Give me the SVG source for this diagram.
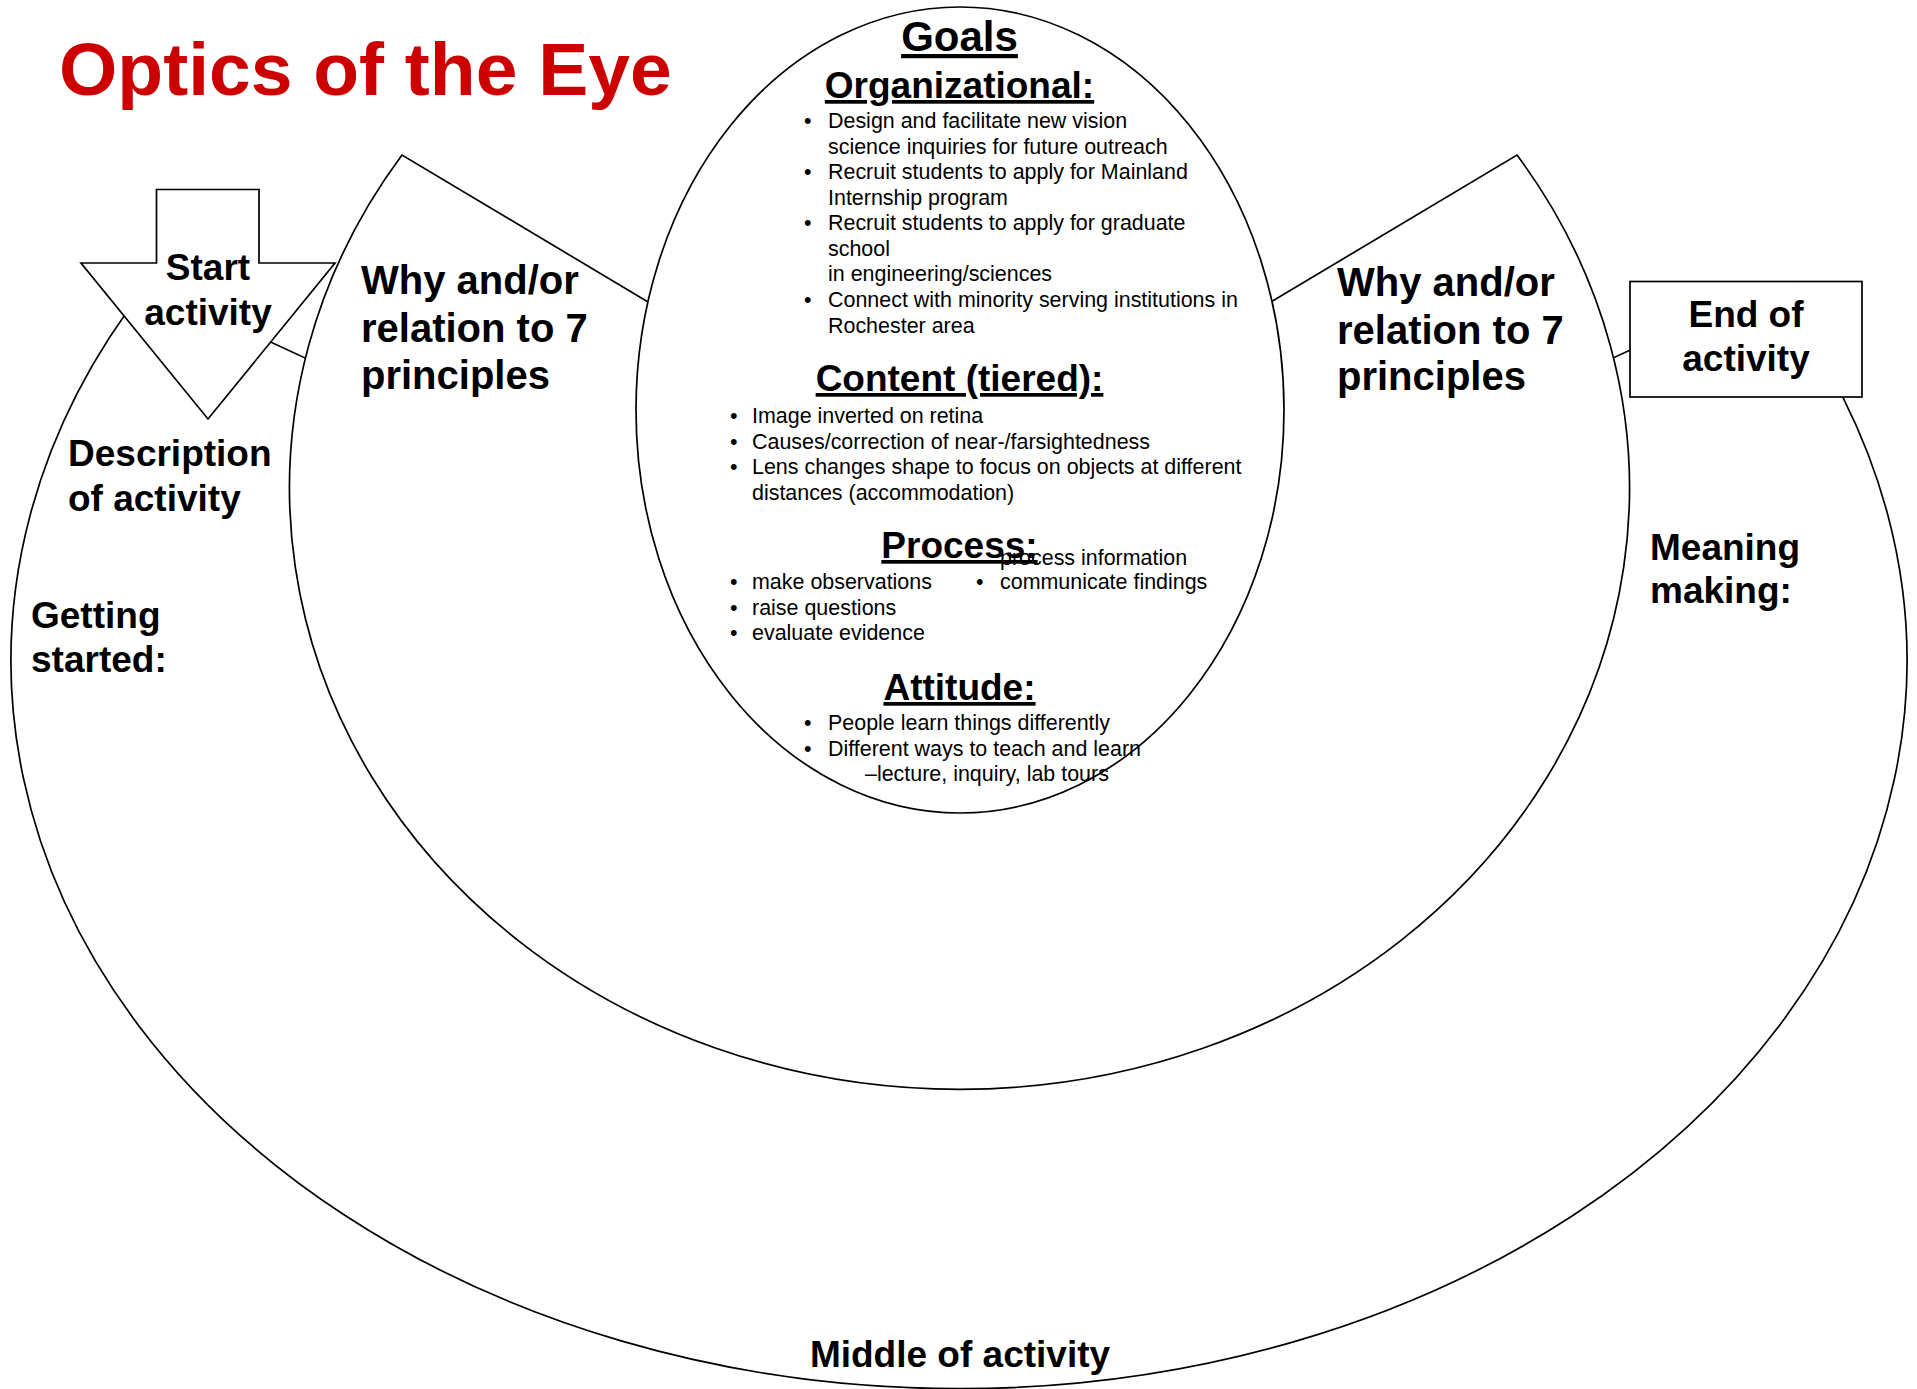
<svg xmlns="http://www.w3.org/2000/svg" width="1917" height="1389" viewBox="0 0 1917 1389">
  <style>
    .shape { fill: #ffffff; stroke: #000000; stroke-width: 1.7; stroke-linejoin: miter; }
    .lbl { font-family: "Liberation Sans", Arial, sans-serif; font-weight: bold; font-size: 37px; fill: #000000; }
    .why { font-size: 40px; }
    .head { font-family: "Liberation Sans", Arial, sans-serif; font-weight: bold; font-size: 37px; fill: #000000; text-anchor: middle; text-decoration: underline; }
    .body { font-family: "Liberation Sans", Arial, sans-serif; font-size: 21.45px; fill: #000000; }
    .mid { text-anchor: middle; }
  </style>

  <rect x="0" y="0" width="1917" height="1389" fill="#ffffff"/>

  <!-- outer band: pie with the top wedge removed -->
  <g id="outer-band">
    <path class="shape" d="M 959 660 L 147 285 A 948 728 0 1 0 1771 285 Z"/>
  </g>

  <!-- middle band: pie with the top wedge removed -->
  <g id="middle-band">
    <path class="shape" d="M 959.5 488 L 402 155 A 670 601 0 1 0 1517 155 Z"/>
  </g>

  <!-- central goals ellipse -->
  <g id="goals">
    <ellipse class="shape" cx="960" cy="410" rx="324" ry="403"/>
    <text class="head" x="959.5" y="51" style="font-size:42px">Goals</text>
    <text class="head" x="959.5" y="98">Organizational:</text>
    <g class="body">
      <text x="804" y="128">•</text>
      <text x="828" y="128">Design and facilitate new vision</text>
      <text x="828" y="153.5">science inquiries for future outreach</text>
      <text x="804" y="179">•</text>
      <text x="828" y="179">Recruit students to apply for Mainland</text>
      <text x="828" y="204.5">Internship program</text>
      <text x="804" y="230">•</text>
      <text x="828" y="230">Recruit students to apply for graduate</text>
      <text x="828" y="255.5">school</text>
      <text x="828" y="281">in engineering/sciences</text>
      <text x="804" y="307">•</text>
      <text x="828" y="307">Connect with minority serving institutions in</text>
      <text x="828" y="332.5">Rochester area</text>
    </g>

    <text class="head" x="959.5" y="391">Content (tiered):</text>
    <g class="body">
      <text x="730" y="423">•</text>
      <text x="752" y="423">Image inverted on retina</text>
      <text x="730" y="448.5">•</text>
      <text x="752" y="448.5">Causes/correction of near-/farsightedness</text>
      <text x="730" y="474">•</text>
      <text x="752" y="474">Lens changes shape to focus on objects at different</text>
      <text x="752" y="500">distances (accommodation)</text>
    </g>

    <text class="head" x="959.5" y="558">Process:</text>
    <g class="body">
      <text x="1000" y="565">process information</text>
      <text x="730" y="589">•</text>
      <text x="752" y="589">make observations</text>
      <text x="976" y="589">•</text>
      <text x="1000" y="589">communicate findings</text>
      <text x="730" y="614.5">•</text>
      <text x="752" y="614.5">raise questions</text>
      <text x="730" y="640">•</text>
      <text x="752" y="640">evaluate evidence</text>
    </g>

    <text class="head" x="959.5" y="700">Attitude:</text>
    <g class="body">
      <text x="804" y="729.5">•</text>
      <text x="828" y="729.5">People learn things differently</text>
      <text x="804" y="755.5">•</text>
      <text x="828" y="755.5">Different ways to teach and learn</text>
      <text x="865" y="781">–lecture, inquiry, lab tours</text>
    </g>
  </g>

  <!-- start marker: down arrow -->
  <g id="start-activity">
    <polygon class="shape" points="156.5,189.5 259,189.5 259,263 335,263 208,419 81,263 156.5,263"/>
    <text class="lbl mid" x="208" y="280">Start</text>
    <text class="lbl mid" x="208" y="325">activity</text>
  </g>

  <!-- end marker: box -->
  <g id="end-activity">
    <rect class="shape" x="1630" y="281.5" width="232" height="115.5"/>
    <text class="lbl mid" x="1746" y="327">End of</text>
    <text class="lbl mid" x="1746" y="371">activity</text>
  </g>

  <!-- band labels -->
  <g id="why-left">
    <text class="lbl why" x="361" y="294">Why and/or</text>
    <text class="lbl why" x="361" y="342">relation to 7</text>
    <text class="lbl why" x="361" y="389">principles</text>
  </g>
  <g id="why-right">
    <text class="lbl why" x="1337" y="296">Why and/or</text>
    <text class="lbl why" x="1337" y="344">relation to 7</text>
    <text class="lbl why" x="1337" y="390">principles</text>
  </g>
  <g id="description">
    <text class="lbl" x="68" y="466">Description</text>
    <text class="lbl" x="68" y="511">of activity</text>
  </g>
  <g id="getting-started">
    <text class="lbl" x="31" y="628">Getting</text>
    <text class="lbl" x="31" y="672">started:</text>
  </g>
  <g id="meaning-making">
    <text class="lbl" x="1650" y="560">Meaning</text>
    <text class="lbl" x="1650" y="603">making:</text>
  </g>
  <g id="middle-of-activity">
    <text class="lbl mid" x="960" y="1367">Middle of activity</text>
  </g>

  <!-- connectors: none between nodes; bands touch directly -->
  <g id="connectors"></g>

  <!-- title -->
  <text x="59" y="95" style="font-family:'Liberation Sans', Arial, sans-serif; font-weight:bold; font-size:75px; fill:#cc0000">Optics of the Eye</text>
</svg>
